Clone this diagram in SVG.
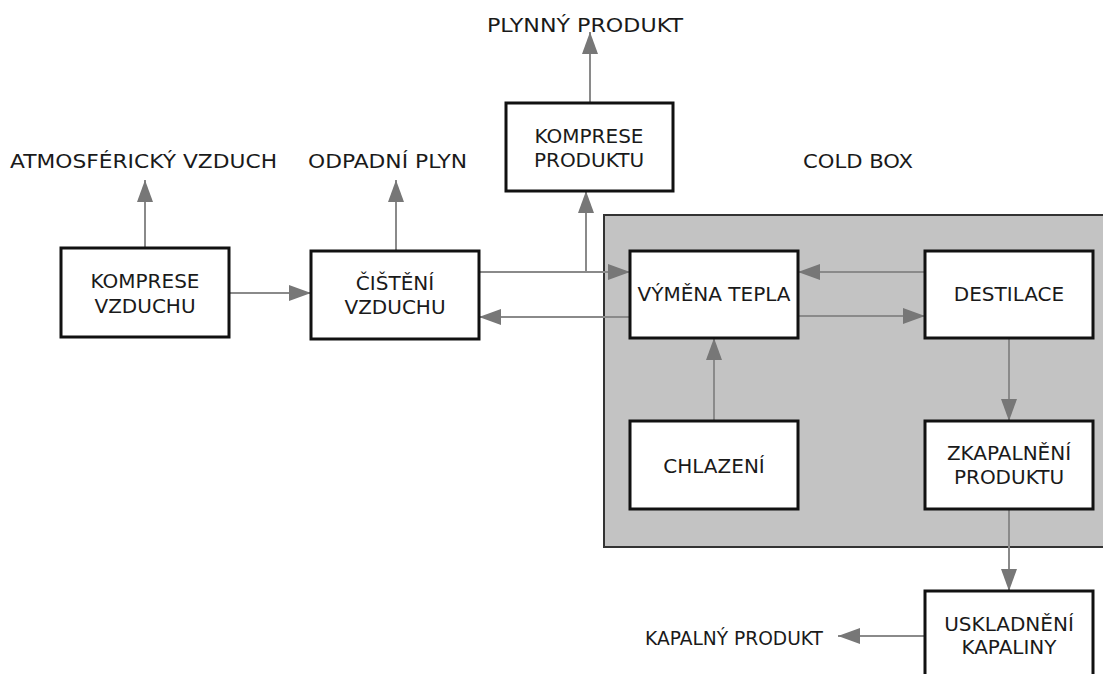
<svg xmlns="http://www.w3.org/2000/svg" width="1103" height="674" viewBox="0 0 1103 674">
<style>
.box{fill:#fff;stroke:#111;stroke-width:3}
.t{font-family:"DejaVu Sans",Verdana,sans-serif;font-size:20px;fill:#1a1a1a;text-anchor:middle}
.lbl{font-family:"DejaVu Sans",Verdana,sans-serif;font-size:20px;fill:#1a1a1a}
.c{fill:none;stroke:#8a8a8a;stroke-width:2}
</style>
<defs>
<marker id="ah" viewBox="0 0 22 16" refX="22" refY="8" markerWidth="22" markerHeight="16" markerUnits="userSpaceOnUse" orient="auto">
<path d="M0,0 L22,8 L0,16 Z" fill="#777"/>
</marker>
</defs>
<rect width="1103" height="674" fill="#fff"/>
<g id="coldbox">
<rect x="604" y="215" width="510" height="332" fill="#c3c3c3" stroke="#333" stroke-width="2"/>
<text class="lbl" x="803" y="168" textLength="110" lengthAdjust="spacingAndGlyphs">COLD BOX</text>
</g>
<g id="labels">
<text class="lbl" x="10" y="168" textLength="267" lengthAdjust="spacingAndGlyphs">ATMOSFÉRICKÝ VZDUCH</text>
<text class="lbl" x="308" y="168" textLength="159" lengthAdjust="spacingAndGlyphs">ODPADNÍ PLYN</text>
<text class="lbl" x="487" y="32" textLength="196" lengthAdjust="spacingAndGlyphs">PLYNNÝ PRODUKT</text>
<text class="lbl" x="645" y="645" textLength="178" lengthAdjust="spacingAndGlyphs">KAPALNÝ PRODUKT</text>
</g>
<g id="connectors">
<line class="c" x1="145" y1="248" x2="145" y2="180" marker-end="url(#ah)"/>
<line class="c" x1="396" y1="251" x2="396" y2="180" marker-end="url(#ah)"/>
<line class="c" x1="590" y1="103" x2="590" y2="32" marker-end="url(#ah)"/>
<line class="c" x1="229" y1="293" x2="311" y2="293" marker-end="url(#ah)"/>
<line class="c" x1="479" y1="272" x2="630" y2="272" marker-end="url(#ah)"/>
<line class="c" x1="586" y1="272" x2="586" y2="191" marker-end="url(#ah)"/>
<line class="c" x1="630" y1="317" x2="479" y2="317" marker-end="url(#ah)"/>
<line class="c" x1="925" y1="272" x2="798" y2="272" marker-end="url(#ah)"/>
<line class="c" x1="798" y1="316" x2="925" y2="316" marker-end="url(#ah)"/>
<line class="c" x1="714" y1="421" x2="714" y2="338" marker-end="url(#ah)"/>
<line class="c" x1="1009" y1="338" x2="1009" y2="421" marker-end="url(#ah)"/>
<line class="c" x1="1009" y1="509" x2="1009" y2="591" marker-end="url(#ah)"/>
<line class="c" x1="925" y1="636" x2="838" y2="636" marker-end="url(#ah)"/>
</g>
<g id="n-komprese-vzduchu">
<rect class="box" x="61" y="248" width="168" height="89"/>
<text class="t" x="145" y="288">KOMPRESE</text>
<text class="t" x="145" y="313">VZDUCHU</text>
</g>
<g id="n-cisteni-vzduchu">
<rect class="box" x="311" y="251" width="168" height="88"/>
<text class="t" x="395" y="290">ČIŠTĚNÍ</text>
<text class="t" x="395" y="314">VZDUCHU</text>
</g>
<g id="n-komprese-produktu">
<rect class="box" x="506" y="103" width="167" height="88"/>
<text class="t" x="589" y="143">KOMPRESE</text>
<text class="t" x="589" y="167">PRODUKTU</text>
</g>
<g id="n-vymena-tepla">
<rect class="box" x="630" y="251" width="168" height="87"/>
<text class="t" x="714" y="301">VÝMĚNA TEPLA</text>
</g>
<g id="n-destilace">
<rect class="box" x="925" y="251" width="168" height="87"/>
<text class="t" x="1009" y="301">DESTILACE</text>
</g>
<g id="n-chlazeni">
<rect class="box" x="630" y="421" width="168" height="88"/>
<text class="t" x="714" y="473">CHLAZENÍ</text>
</g>
<g id="n-zkapalneni">
<rect class="box" x="925" y="421" width="168" height="88"/>
<text class="t" x="1009" y="460">ZKAPALNĚNÍ</text>
<text class="t" x="1009" y="484">PRODUKTU</text>
</g>
<g id="n-uskladneni">
<rect class="box" x="925" y="591" width="168" height="100"/>
<text class="t" x="1009" y="631">USKLADNĚNÍ</text>
<text class="t" x="1009" y="654">KAPALINY</text>
</g>
</svg>
